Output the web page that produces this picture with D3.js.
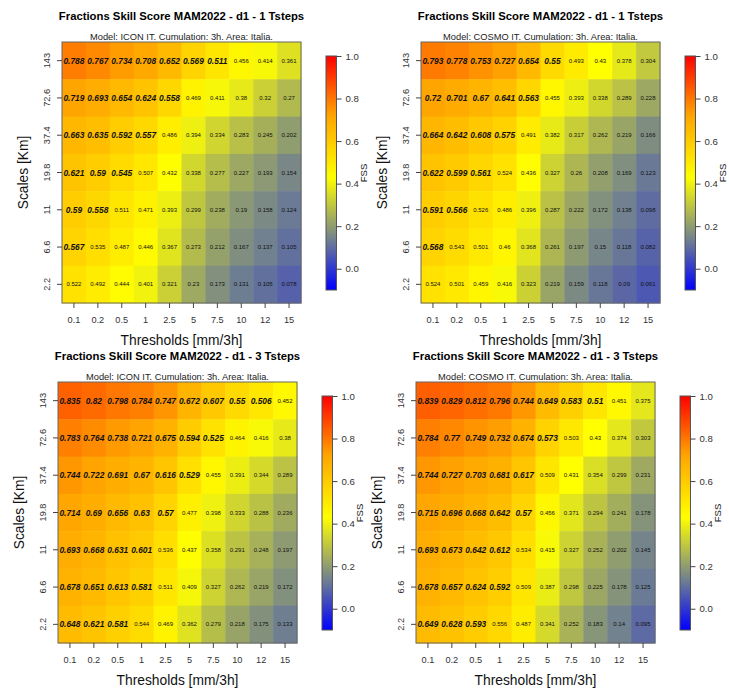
<!DOCTYPE html>
<html>
<head>
<meta charset="utf-8">
<script src="https://cdn.jsdelivr.net/npm/d3@7"></script>
<style>
  html, body { margin: 0; padding: 0; background: #fff; }
  svg { display: block; font-family: "Liberation Sans", Arial, Helvetica, sans-serif; }
</style>
</head>
<body>
<svg id="chart" width="729" height="691"></svg>
<script>
// ---------------- DATA ----------------
const thresholds = ["0.1", "0.2", "0.5", "1", "2.5", "5", "7.5", "10", "12", "15"];
const scales = ["143", "72.6", "37.4", "19.8", "11", "6.6", "2.2"]; // top to bottom

const fssIcon1 = [
  [0.788, 0.767, 0.734, 0.708, 0.652, 0.569, 0.511, 0.456, 0.414, 0.361],
  [0.719, 0.693, 0.654, 0.624, 0.558, 0.469, 0.411, 0.38, 0.32, 0.27],
  [0.663, 0.635, 0.592, 0.557, 0.486, 0.394, 0.334, 0.283, 0.245, 0.202],
  [0.621, 0.59, 0.545, 0.507, 0.432, 0.338, 0.277, 0.227, 0.193, 0.154],
  [0.59, 0.558, 0.511, 0.471, 0.393, 0.299, 0.238, 0.19, 0.158, 0.124],
  [0.567, 0.535, 0.487, 0.446, 0.367, 0.273, 0.212, 0.167, 0.137, 0.105],
  [0.522, 0.492, 0.444, 0.401, 0.321, 0.23, 0.173, 0.131, 0.105, 0.078]
];
const fssCosmo1 = [
  [0.793, 0.778, 0.753, 0.727, 0.654, 0.55, 0.493, 0.43, 0.378, 0.304],
  [0.72, 0.701, 0.67, 0.641, 0.563, 0.455, 0.393, 0.338, 0.289, 0.228],
  [0.664, 0.642, 0.608, 0.575, 0.491, 0.382, 0.317, 0.262, 0.219, 0.166],
  [0.622, 0.599, 0.561, 0.524, 0.436, 0.327, 0.26, 0.208, 0.169, 0.123],
  [0.591, 0.566, 0.526, 0.486, 0.396, 0.287, 0.222, 0.172, 0.138, 0.098],
  [0.568, 0.543, 0.501, 0.46, 0.368, 0.261, 0.197, 0.15, 0.118, 0.082],
  [0.524, 0.501, 0.459, 0.416, 0.323, 0.219, 0.159, 0.118, 0.09, 0.061]
];
const fssIcon3 = [
  [0.835, 0.82, 0.798, 0.784, 0.747, 0.672, 0.607, 0.55, 0.506, 0.452],
  [0.783, 0.764, 0.738, 0.721, 0.675, 0.594, 0.525, 0.464, 0.416, 0.38],
  [0.744, 0.722, 0.691, 0.67, 0.616, 0.529, 0.455, 0.391, 0.344, 0.289],
  [0.714, 0.69, 0.656, 0.63, 0.57, 0.477, 0.398, 0.333, 0.288, 0.236],
  [0.693, 0.668, 0.631, 0.601, 0.536, 0.437, 0.358, 0.291, 0.248, 0.197],
  [0.678, 0.651, 0.613, 0.581, 0.511, 0.409, 0.327, 0.262, 0.219, 0.172],
  [0.648, 0.621, 0.581, 0.544, 0.469, 0.362, 0.279, 0.218, 0.175, 0.133]
];
const fssCosmo3 = [
  [0.839, 0.829, 0.812, 0.796, 0.744, 0.649, 0.583, 0.51, 0.451, 0.375],
  [0.784, 0.77, 0.749, 0.732, 0.674, 0.573, 0.503, 0.43, 0.374, 0.303],
  [0.744, 0.727, 0.703, 0.681, 0.617, 0.509, 0.431, 0.354, 0.299, 0.231],
  [0.715, 0.696, 0.668, 0.642, 0.57, 0.456, 0.371, 0.294, 0.241, 0.178],
  [0.693, 0.673, 0.642, 0.612, 0.534, 0.415, 0.327, 0.252, 0.202, 0.145],
  [0.678, 0.657, 0.624, 0.592, 0.509, 0.387, 0.298, 0.225, 0.178, 0.125],
  [0.649, 0.628, 0.593, 0.556, 0.487, 0.341, 0.252, 0.183, 0.14, 0.095]
];

// number of leading cells per row (from the left) printed in bold italic ("useful" skill)
const boldIcon1 = [7, 5, 4, 3, 2, 1, 0];
const boldCosmo1 = [6, 5, 4, 3, 2, 1, 0];
const boldIcon3 = [9, 7, 6, 5, 4, 4, 3];
const boldCosmo3 = [8, 6, 5, 5, 4, 4, 3];

const panelTitles = [
  "Fractions Skill Score MAM2022 - d1 - 1 Tsteps",
  "Fractions Skill Score MAM2022 - d1 - 1 Tsteps",
  "Fractions Skill Score MAM2022 - d1 - 3 Tsteps",
  "Fractions Skill Score MAM2022 - d1 - 3 Tsteps"
];
const panelSubtitles = [
  "Model: ICON IT. Cumulation: 3h. Area: Italia.",
  "Model: COSMO IT. Cumulation: 3h. Area: Italia.",
  "Model: ICON IT. Cumulation: 3h. Area: Italia.",
  "Model: COSMO IT. Cumulation: 3h. Area: Italia."
];
const colorbarTicks = [0.0, 0.2, 0.4, 0.6, 0.8, 1.0];
const colorDomain = [-0.1, 1.0];
const paletteStops = [-0.1, 0.135, 0.43, 0.72, 1.0];
const paletteColors = ["#0000FF", "#708090", "#FFFF00", "#FFA500", "#FF0000"];
const xTitle = "Thresholds [mm/3h]";
const yTitle = "Scales [Km]";
const cbTitle = "FSS";

// ---------------- LAYOUT ----------------
const panelData = [fssIcon1, fssCosmo1, fssIcon3, fssCosmo3];
const panelBold = [boldIcon1, boldCosmo1, boldIcon3, boldCosmo3];
const boxes = [{x: 62, y: 42}, {x: 421, y: 42}, {x: 58, y: 382}, {x: 416, y: 382}];
const W = 239, H = 261;

const svg = d3.select("#chart");
svg.append("rect").attr("width", 729).attr("height", 691).attr("fill", "#fff");

const color = d3.scaleLinear().domain(paletteStops).range(paletteColors)
  .interpolate(d3.interpolateRgb).clamp(true);

// gradient for colorbar
const defs = svg.append("defs");
const grad = defs.append("linearGradient").attr("id", "cbgrad")
  .attr("x1", 0).attr("y1", 1).attr("x2", 0).attr("y2", 0);
d3.range(0, 1.0001, 0.02).forEach(t => {
  const v = colorDomain[0] + t * (colorDomain[1] - colorDomain[0]);
  grad.append("stop").attr("offset", t).attr("stop-color", color(v));
});

panelData.forEach((data, p) => {
  const b = boxes[p];
  const g = svg.append("g");

  const x = d3.scaleBand().domain(thresholds).range([b.x, b.x + W]).paddingInner(0).paddingOuter(0);
  const y = d3.scaleBand().domain(scales).range([b.y, b.y + H]);

  // cells
  const cells = [];
  data.forEach((row, ri) => row.forEach((v, ci) => cells.push({
    v, s: scales[ri], t: thresholds[ci], bold: ci < panelBold[p][ri]
  })));

  g.selectAll("rect.cell").data(cells).join("rect")
    .attr("class", "cell")
    .attr("x", d => x(d.t)).attr("y", d => y(d.s))
    .attr("width", x.bandwidth() + 0.5).attr("height", y.bandwidth() + 0.5)
    .attr("fill", d => color(d.v));

  g.selectAll("text.val").data(cells).join("text")
    .attr("class", "val")
    .attr("x", d => x(d.t) + x.bandwidth() / 2)
    .attr("y", d => y(d.s) + y.bandwidth() / 2)
    .attr("text-anchor", "middle")
    .attr("dominant-baseline", "central")
    .attr("font-size", d => d.bold ? 8.4 : 6)
    .attr("font-weight", d => d.bold ? "bold" : "normal")
    .attr("font-style", d => d.bold ? "italic" : "normal")
    .attr("fill", "#111")
    .text(d => String(d.v));

  // frame
  g.append("rect").attr("x", b.x).attr("y", b.y).attr("width", W).attr("height", H)
    .attr("fill", "none").attr("stroke", "#666").attr("stroke-width", 1);

  // x axis
  const xAxis = d3.axisBottom(x).tickSize(5).tickPadding(8);
  const gx = g.append("g").attr("transform", `translate(0,${b.y + H})`).call(xAxis);
  gx.select(".domain").remove();
  gx.selectAll("line").attr("stroke", "#444");
  gx.selectAll("text").attr("font-size", 9.2).attr("fill", "#333")
    .attr("font-family", "Liberation Sans, Arial, sans-serif");

  // y axis (rotated labels)
  const yAxis = d3.axisLeft(y).tickSize(5).tickFormat("");
  const gy = g.append("g").attr("transform", `translate(${b.x},0)`).call(yAxis);
  gy.select(".domain").remove();
  gy.selectAll("line").attr("stroke", "#444");
  g.selectAll("text.ylab").data(scales).join("text")
    .attr("class", "ylab")
    .attr("transform", d => `translate(${b.x - 15},${y(d) + y.bandwidth() / 2}) rotate(-90)`)
    .attr("text-anchor", "middle").attr("dominant-baseline", "central")
    .attr("font-size", 9.2).attr("fill", "#333")
    .text(d => d);

  // titles
  g.append("text").attr("x", b.x + W / 2).attr("y", b.y - 26.5)
    .attr("text-anchor", "middle").attr("dominant-baseline", "central")
    .attr("font-size", 11.3).attr("font-weight", "bold").attr("fill", "#000")
    .text(panelTitles[p]);
  g.append("text").attr("x", b.x + W / 2).attr("y", b.y - 5)
    .attr("text-anchor", "middle").attr("dominant-baseline", "central")
    .attr("font-size", 9.3).attr("fill", "#222")
    .text(panelSubtitles[p]);

  g.append("text").attr("x", b.x + W / 2).attr("y", b.y + H + 37.5)
    .attr("text-anchor", "middle").attr("dominant-baseline", "central")
    .attr("font-size", 13.8).attr("fill", "#111")
    .text(xTitle);
  g.append("text")
    .attr("transform", `translate(${b.x - 39},${b.y + H / 2}) rotate(-90)`)
    .attr("text-anchor", "middle").attr("dominant-baseline", "central")
    .attr("font-size", 13.8).attr("fill", "#111")
    .text(yTitle);

  // colorbar
  const cbx = b.x + 264, cbw = 10.5;
  const cy = d3.scaleLinear().domain(colorDomain).range([b.y + 248, b.y + 14]);
  g.append("rect").attr("x", cbx).attr("y", cy(colorDomain[1])).attr("width", cbw)
    .attr("height", cy(colorDomain[0]) - cy(colorDomain[1]))
    .attr("fill", "url(#cbgrad)").attr("stroke", "#555").attr("stroke-width", 1);
  const cAxis = d3.axisRight(cy).tickValues(colorbarTicks).tickFormat(d3.format(".1f")).tickSize(5).tickPadding(4);
  const gc = g.append("g").attr("transform", `translate(${cbx + cbw},0)`).call(cAxis);
  gc.select(".domain").remove();
  gc.selectAll("line").attr("stroke", "#444");
  gc.selectAll("text").attr("font-size", 9.6).attr("fill", "#333")
    .attr("font-family", "Liberation Sans, Arial, sans-serif");
  g.append("text")
    .attr("transform", `translate(${b.x + 301},${b.y + 131}) rotate(-90)`)
    .attr("text-anchor", "middle").attr("dominant-baseline", "central")
    .attr("font-size", 9.5).attr("fill", "#222")
    .text(cbTitle);
});
</script>
</body>
</html>
